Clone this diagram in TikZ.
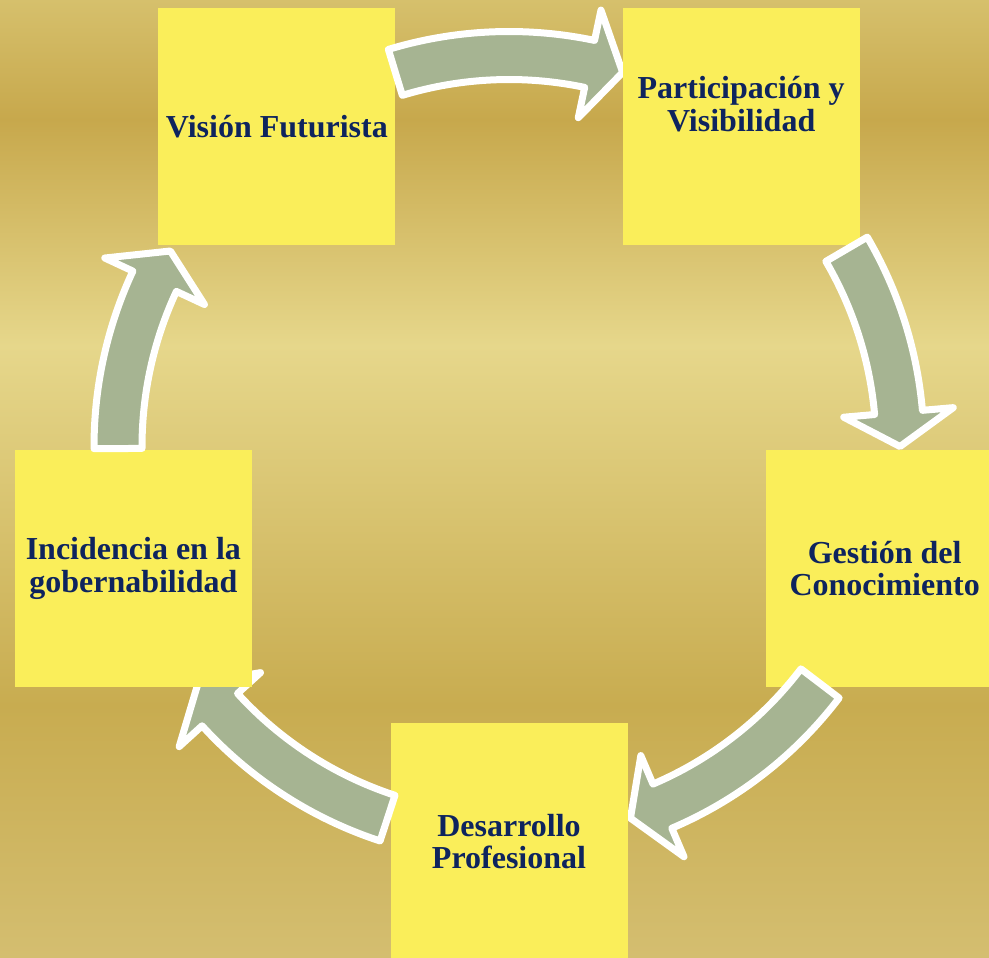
\documentclass[tikz,border=0pt]{standalone}
\usepackage{fontspec}
\setmainfont{Liberation Serif}
\usepackage{tikz}
\usetikzlibrary{positioning,calc}

\definecolor{boxyellow}{RGB}{250,238,90}
\definecolor{arrowgreen}{RGB}{166,180,146}
\definecolor{textnavy}{RGB}{14,36,94}
\definecolor{goldA}{RGB}{214,192,108}
\definecolor{goldB}{RGB}{199,168,76}
\definecolor{goldC}{RGB}{230,215,139}
\definecolor{goldD}{RGB}{200,172,80}
\definecolor{goldE}{RGB}{212,190,112}

\newcommand{\cycarrow}[2]{%
	\draw[cyc] ($(c)+(#1:415)$) arc[start angle=#1, end angle=#2+5, radius=415]
		-- ($(c)+(#2+5:446)$) -- ($(c)+(#2:391)$) -- ($(c)+(#2+5:336)$)
		-- ($(c)+(#2+5:367)$) arc[start angle=#2+5, end angle=#1, radius=367] -- cycle;}

\begin{document}
\begin{tikzpicture}[x=0.75pt, y=0.75pt,
		box/.style={rectangle, fill=boxyellow, minimum width=177.75pt, minimum height=177.75pt, inner sep=0pt},
		txt/.style={text=textnavy, font=\fontsize{24}{24.5}\selectfont\bfseries, align=center, inner sep=0pt},
		cyc/.style={fill=arrowgreen, draw=white, line width=5.25pt, line join=round}]
		\clip (0,0) rectangle (989,-957);
		
		\shade[top color=goldA, bottom color=goldB] (0,0) rectangle (989,-120);
		\shade[top color=goldB, bottom color=goldC] (0,-119) rectangle (989,-346);
		\shade[top color=goldC, bottom color=goldD] (0,-345) rectangle (989,-706);
		\shade[top color=goldD, bottom color=goldE] (0,-705) rectangle (989,-957);
		
		\coordinate (c) at (509,-446.5);
		
		\node [box] (vis) at ($(c)+(126:395)$) {};
		\node [txt] (vist) at (vis) {Visión Futurista};
		\cycarrow{106.9}{73.1}
		
		\node [box] (par) at ($(c)+(54:395)$) {};
		\node [txt, shift={(0,23)}] (part) at (par) {Participación y\\Visibilidad};
		\cycarrow{30.3}{0}
		
		\node [box] (ges) at ($(c)+(-18:395)$) {};
		\node [txt] (gest) at (ges) {Gestión del\\Conocimiento};
		\cycarrow{-37.3}{-71.9}
		
		\node [box] (des) at ($(c)+(-90:395)$) {};
		\node [txt] (dest) at (des) {Desarrollo\\Profesional};
		\cycarrow{-108.1}{-142.7}
		
		\node [box] (inc) at ($(c)+(198:395)$) {};
		\node [txt] (inct) at (inc) {Incidencia en la\\gobernabilidad};
		\cycarrow{180.3}{150}
	\end{tikzpicture}
\end{document}
